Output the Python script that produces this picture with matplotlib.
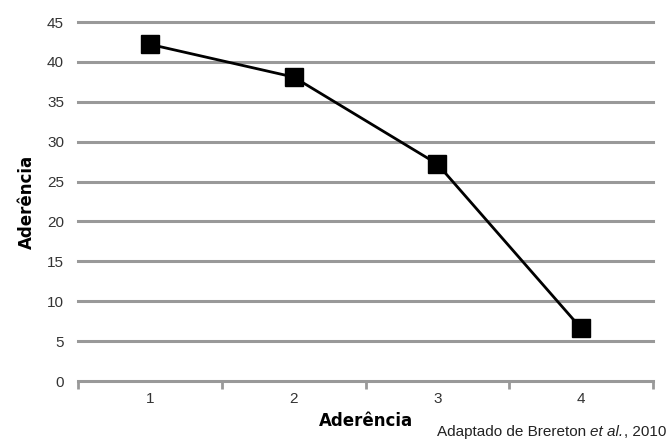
import matplotlib
matplotlib.use("Agg")
import matplotlib.pyplot as plt
from matplotlib import font_manager

categories = [1, 2, 3, 4]
values = [42.2, 38.1, 27.2, 6.6]
y_ticks = [0, 5, 10, 15, 20, 25, 30, 35, 40, 45]
x_label = "Aderência"
y_label = "Aderência"

names = {f.name for f in font_manager.fontManager.ttflist}
narrow = "Liberation Sans Narrow" if "Liberation Sans Narrow" in names else "Liberation Sans"
plt.rcParams["font.family"] = [narrow, "DejaVu Sans"]

fig = plt.figure(figsize=(6.69, 4.48), dpi=100)
ax = fig.add_axes([78 / 669, 1 - 381 / 448, (653 - 78) / 669, (381 - 22) / 448])

ax.set_ylim(0, 45)
ax.set_xlim(0.5, 4.5)
ax.set_yticks(y_ticks)
ax.set_yticklabels([str(t) for t in y_ticks])
ax.set_xticks(categories)
ax.set_xticklabels([str(c) for c in categories])
ax.set_xticks([c - 0.5 for c in categories] + [categories[-1] + 0.5], minor=True)

ax.grid(axis="y", color="#999999", linewidth=2.2)
for gl in ax.get_ygridlines():
    gl.set_clip_on(False)
ax.set_axisbelow(True)

for s in ax.spines.values():
    s.set_visible(False)

ax.tick_params(axis="y", length=0, pad=10, labelsize=11, labelcolor="#333333")
ax.tick_params(axis="x", which="major", length=0, pad=8, labelsize=11, labelcolor="#333333")
ax.tick_params(axis="x", which="minor", length=6, width=2, color="#999999", direction="out")

ax.plot(categories, values, color="black", linewidth=2, marker="s",
        markersize=13.5, markerfacecolor="black", markeredgecolor="black",
        clip_on=False, zorder=5)

ax.set_xlabel(x_label, fontsize=12, fontweight="bold", family=["DejaVu Sans"], labelpad=4)
ax.set_ylabel(y_label, fontsize=12, fontweight="bold", family=["DejaVu Sans"], labelpad=8)

# Source note, right-aligned, with "et al." in italics
fig.canvas.draw()
renderer = fig.canvas.get_renderer()
parts = [("Adaptado de Brereton ", "normal"), ("et al.", "italic"), (", 2010", "normal")]
x_right = 666
y_pix = 448 - 432
texts = []
for s, style in parts:
    t = fig.text(0, y_pix / 448, s, fontsize=11, style=style, color="#222222",
                 ha="left", va="center")
    texts.append(t)
widths = [t.get_window_extent(renderer).width for t in texts]
x = x_right - sum(widths)
for t, w in zip(texts, widths):
    t.set_x(x / 669)
    x += w

fig.savefig("out.png", dpi=100, facecolor="white")
